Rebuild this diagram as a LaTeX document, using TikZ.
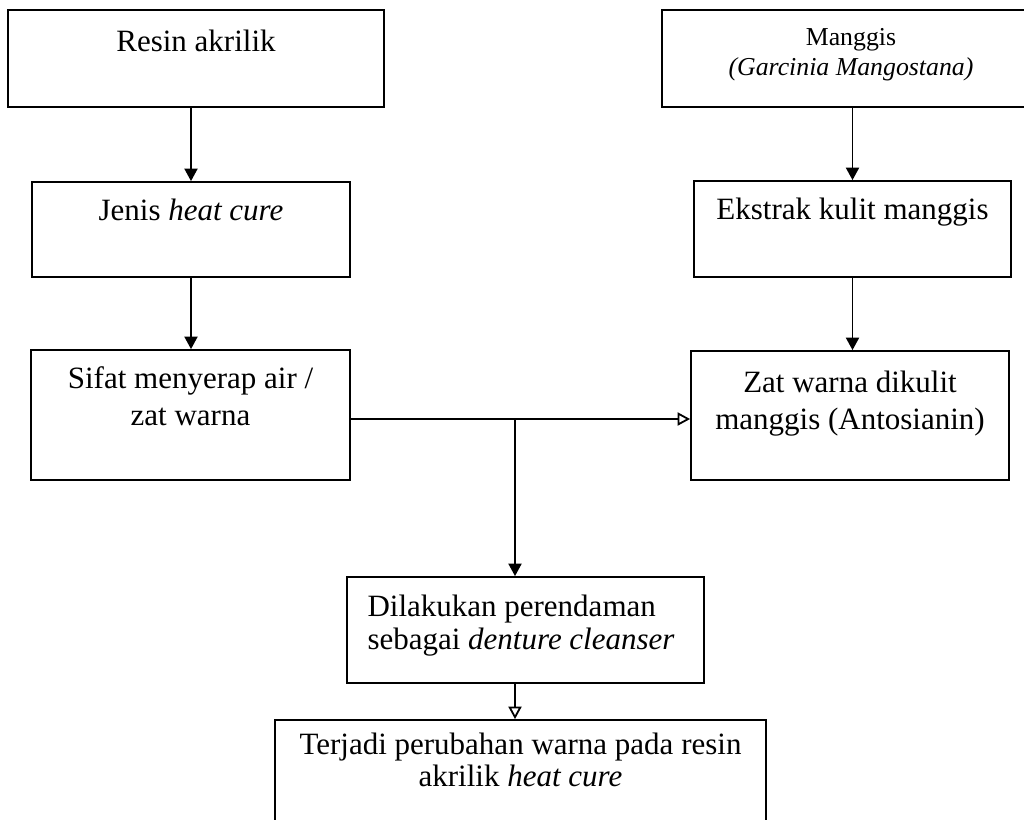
\documentclass[tikz,border=0pt]{standalone}
\usepackage{fontspec}
\setmainfont{Liberation Serif}
\usetikzlibrary{arrows.meta,positioning}
\tikzset{
  >={Triangle[length=2.2mm,width=2.3mm]},
  box/.style={draw,line width=.9pt,inner sep=0pt},
  txt/.style={inner sep=0pt,align=center,font=\fontsize{15.5}{18.5}\selectfont},
  smalltxt/.style={inner sep=0pt,align=center,font=\fontsize{12.9}{15}\selectfont},
  flow/.style={->,line width=.9pt},
  openflow/.style={-{Triangle[open,length=2.2mm,width=2.3mm]},line width=.9pt},
}

\begin{document}
\begin{tikzpicture}[x=0.5pt,y=-0.5pt]
  \useasboundingbox (0,0) rectangle (1024,820);
  \begin{scope}
  \clip (0,0) rectangle (1024,820);
  % boxes
  \node[box,minimum width=188pt,minimum height=48.5pt] (resin) at (196,58.5) {};
  \node[box,minimum width=189pt,minimum height=48.5pt] (manggis) at (851,58.5) {};
  \node[box,minimum width=159pt,minimum height=47.5pt] (jenis) at (191,229.5) {};
  \node[box,minimum width=158.5pt,minimum height=48pt] (ekstrak) at (852.5,229) {};
  \node[box,minimum width=159.5pt,minimum height=65pt] (sifat) at (190.5,415) {};
  \node[box,minimum width=159pt,minimum height=64.5pt] (zat) at (850,415.5) {};
  \node[box,minimum width=178.5pt,minimum height=53pt] (rendam) at (525.5,630) {};
  \node[box,minimum width=245.5pt,minimum height=55pt] (ubah) at (520.5,775) {};
  \end{scope}

  % texts
  \node[txt,below=10pt of resin.north] (resintext) {Resin akrilik};
  \node[smalltxt,below=9.5pt of manggis.north] (manggistext)
    {Manggis\\\textit{(Garcinia Mangostana)}};
  \node[txt,below=8.5pt of jenis.north] (jenistext) {Jenis \textit{heat cure}};
  \node[txt,below=8.5pt of ekstrak.north] (ekstraktext) {Ekstrak kulit manggis};
  \node[txt,below=8.5pt of sifat.north] (sifattext) {Sifat menyerap air /\\zat warna};
  \node[txt,below=10pt of zat.north] (zattext) {Zat warna dikulit\\manggis (Antosianin)};
  \node[txt,align=left,font=\fontsize{15.5}{16.5}\selectfont,anchor=north west,
    below right=9pt and 10.5pt of rendam.north west] (rendamtext)
    {Dilakukan perendaman\\sebagai \textit{denture cleanser}};
  \node[txt,font=\fontsize{15.5}{16}\selectfont,below=6.5pt of ubah.north] (ubahtext)
    {Terjadi perubahan warna pada resin\\akrilik \textit{heat cure}};

  % connectors
  \coordinate (split) at (515,419);
  \draw[flow] (resin.south -| jenis.north) -- (jenis.north);
  \draw[flow] (manggis.south -| ekstrak.north) -- (ekstrak.north);
  \draw[flow] (jenis.south) -- (sifat.north -| jenis.south);
  \draw[flow] (ekstrak.south) -- (zat.north -| ekstrak.south);
  \draw[line width=.9pt] (sifat.east |- split) -- (split);
  \draw[openflow] (split) -- (zat.west |- split);
  \draw[flow] (split) -- (split |- rendam.north);
  \draw[openflow] (split |- rendam.south) -- (split |- ubah.north);
\end{tikzpicture}
\end{document}
